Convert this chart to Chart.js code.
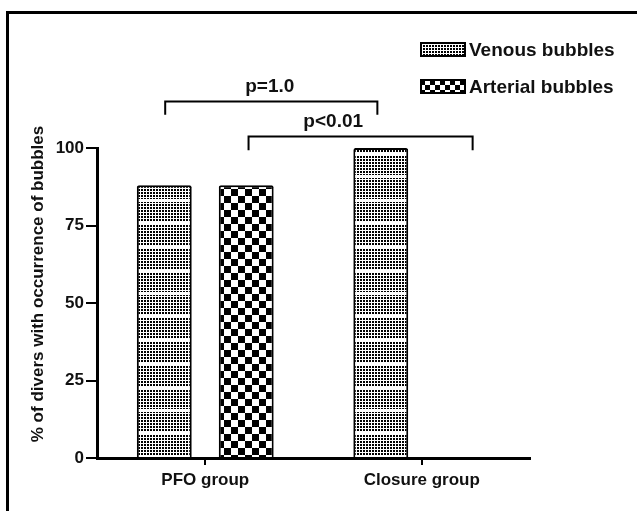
<!DOCTYPE html>
<html>
<head>
<meta charset="utf-8">
<script src="https://cdn.jsdelivr.net/npm/chart.js@4/dist/chart.umd.min.js"></script>
<style>
  body { margin: 0; background: #fff; }
  #wrap { position: relative; width: 637px; height: 511px; overflow: hidden; }
  #frame { position: absolute; left: 6px; top: 11px; width: 700px; height: 600px; border-top: 3px solid #000; border-left: 3px solid #000; }
  canvas { position: absolute; left: 0; top: 0; }
</style>
</head>
<body>
<div id="wrap"><div id="frame"></div><canvas id="myChart" width="637" height="511"></canvas></div>
<script>
const groups = ['PFO group', 'Closure group'];
const seriesNames = ['Venous bubbles', 'Arterial bubbles'];
const venous = [88, 100];
const arterial = [88, 0];
const yTicks = [0, 25, 50, 75, 100];
const yTitle = '% of divers with occurrence of bubbles';

// significance brackets (x in category index units, y in %)
const pLabels = ['p=1.0', 'p<0.01'];
const pLabelX = [0.298, 0.591];
const pFrom = [-0.185, 0.2];
const pTo = [0.795, 1.235];
const pTop = [115, 103.7];
const pFoot = [110.7, 99.3];

const font = 'Liberation Sans, Arial, sans-serif';
Chart.defaults.font.family = font;
Chart.defaults.color = '#111';

// fill patterns
function venousFill(stripes) {
  const c = document.createElement('canvas');
  c.width = 3; c.height = stripes ? 511 : 3;
  const g = c.getContext('2d');
  g.fillStyle = '#fff';
  g.fillRect(0, 0, c.width, c.height);
  g.fillStyle = '#000';
  for (let y = 0; y < c.height; y += 3) g.fillRect(0, y, 2, 2);
  if (stripes) {
    g.fillStyle = '#fff';
    for (let s = 153; s < 511; s += 23.35) {
      g.fillRect(0, Math.round(s) - 1, 3, 3);
    }
  }
  return g.createPattern(c, 'repeat');
}
function checkFill(size) {
  const c = document.createElement('canvas');
  c.width = size * 2; c.height = size * 2;
  const g = c.getContext('2d');
  g.fillStyle = '#fff';
  g.fillRect(0, 0, c.width, c.height);
  g.fillStyle = '#000';
  g.fillRect(0, 0, size, size);
  g.fillRect(size, size, size, size);
  return g.createPattern(c, 'repeat');
}
const legendFills = [venousFill(false), checkFill(5)];

const extras = {
  id: 'extras',
  afterDraw(chart) {
    const ctx = chart.ctx;
    const xs = chart.scales.x, ys = chart.scales.y;
    ctx.save();
    // brackets
    ctx.strokeStyle = '#000';
    ctx.lineWidth = 2;
    ctx.fillStyle = '#111';
    ctx.font = 'bold 19px ' + font;
    ctx.textAlign = 'center';
    ctx.textBaseline = 'bottom';
    for (let i = 0; i < pLabels.length; i++) {
      const x1 = xs.getPixelForValue(pFrom[i]);
      const x2 = xs.getPixelForValue(pTo[i]);
      const yt = ys.getPixelForValue(pTop[i]);
      const yf = ys.getPixelForValue(pFoot[i]);
      ctx.beginPath();
      ctx.moveTo(x1, yf);
      ctx.lineTo(x1, yt);
      ctx.lineTo(x2, yt);
      ctx.lineTo(x2, yf);
      ctx.stroke();
      ctx.fillText(pLabels[i], xs.getPixelForValue(pLabelX[i]), yt - 5);
    }
    // y title
    ctx.save();
    ctx.translate(38, 284);
    ctx.rotate(-Math.PI / 2);
    ctx.textBaseline = 'middle';
    ctx.font = 'bold 17px ' + font;
    ctx.fillText(yTitle, 0, 0);
    ctx.restore();
    // legend
    ctx.textAlign = 'left';
    ctx.textBaseline = 'middle';
    ctx.font = 'bold 19px ' + font;
    chart.data.datasets.forEach((ds, i) => {
      const top = 43 + i * 37;
      ctx.fillStyle = legendFills[i];
      ctx.fillRect(421, top, 44, 13);
      ctx.lineWidth = 2;
      ctx.strokeRect(421, top, 44, 13);
      ctx.fillStyle = '#111';
      ctx.fillText(ds.label, 469, top + 8);
    });
    ctx.restore();
  }
};

const ctx = document.getElementById('myChart').getContext('2d');
new Chart(ctx, {
  type: 'bar',
  data: {
    labels: groups,
    datasets: [{
      label: seriesNames[0],
      data: venous,
      backgroundColor: venousFill(true),
      borderColor: '#000',
      borderWidth: 2,
      borderRadius: 2,
      borderSkipped: 'bottom'
    }, {
      label: seriesNames[1],
      data: arterial,
      backgroundColor: checkFill(7),
      borderColor: '#000',
      borderWidth: 2,
      borderRadius: 2,
      borderSkipped: 'bottom'
    }]
  },
  options: {
    responsive: false,
    animation: false,
    layout: { padding: { top: 148, right: 107, bottom: 0, left: 0 } },
    datasets: { bar: { categoryPercentage: 0.757, barPercentage: 0.67 } },
    plugins: { legend: { display: false }, tooltip: { enabled: false } },
    scales: {
      x: {
        afterFit(scale) { scale.height = 53; },
        grid: { offset: false, drawOnChartArea: false, tickLength: 7, lineWidth: 2, color: '#000' },
        border: { color: '#000', width: 3 },
        ticks: { padding: 5, font: { size: 17, weight: 'bold' }, color: '#111' }
      },
      y: {
        min: 0,
        max: 100,
        afterFit(scale) { scale.width = 97; },
        afterBuildTicks(scale) { scale.ticks = yTicks.map(v => ({ value: v })); },
        grid: { drawOnChartArea: false, tickLength: 11, lineWidth: 2, color: '#000' },
        border: { color: '#000', width: 3 },
        ticks: { padding: 2, font: { size: 17, weight: 'bold' }, color: '#111' }
      }
    }
  },
  plugins: [extras]
});
</script>
</body>
</html>
